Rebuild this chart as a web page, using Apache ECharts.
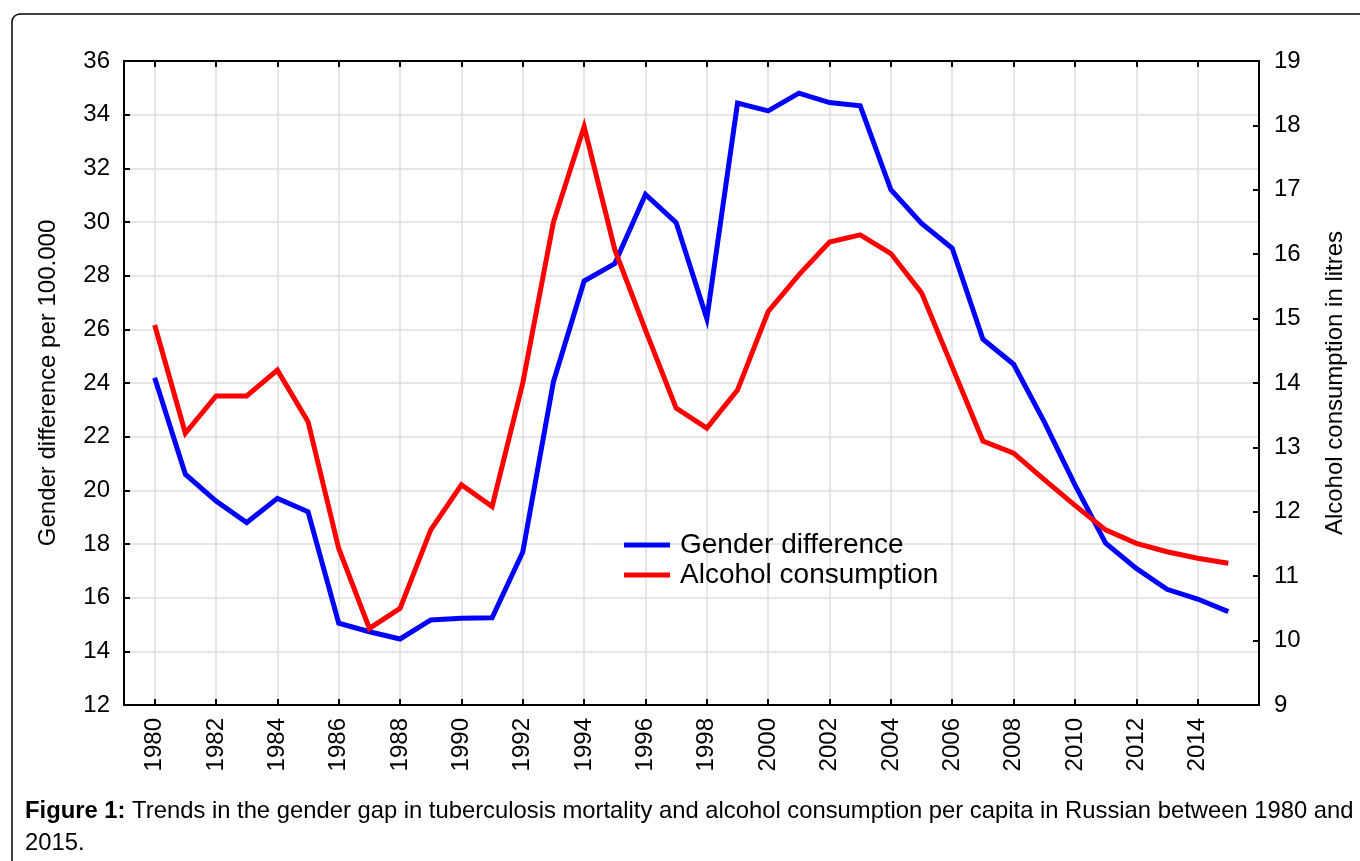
<!DOCTYPE html>
<html>
<head>
    <meta charset="utf-8">
    <title>Gender gap in TB mortality and alcohol consumption</title>
    <script src="https://cdn.jsdelivr.net/npm/echarts@6.0.0/dist/echarts.min.js"></script>
    <style>
        html, body { margin: 0; padding: 0; background: #fff; }
        #chart { width: 1360px; height: 861px; }
    </style>
</head>
<body>
    <div id="chart"></div>
    <script type="text/javascript">
        // years shown on the chart
        var years = [1980, 1981, 1982, 1983, 1984, 1985, 1986, 1987, 1988, 1989,
                     1990, 1991, 1992, 1993, 1994, 1995, 1996, 1997, 1998, 1999,
                     2000, 2001, 2002, 2003, 2004, 2005, 2006, 2007, 2008, 2009,
                     2010, 2011, 2012, 2013, 2014, 2015];

        // gender difference per 100.000 (left axis)
        var genderDiff = [24.2, 20.6, 19.6, 18.8, 19.7, 19.2, 15.05, 14.73, 14.46, 15.17,
                          15.23, 15.25, 17.7, 24.05, 27.8, 28.45, 31.03, 29.98, 26.4, 34.43,
                          34.14, 34.8, 34.45, 34.33, 31.2, 29.95, 29.02, 25.63, 24.7, 22.55,
                          20.2, 18.03, 17.09, 16.31, 15.95, 15.48];

        // alcohol consumption in litres (right axis)
        var alcohol = [14.9, 13.22, 13.8, 13.8, 14.2, 13.4, 11.43, 10.19, 10.5, 11.72,
                       12.42, 12.08, 14.0, 16.5, 17.98, 16.07, 14.82, 13.61, 13.3, 13.89,
                       15.11, 15.68, 16.19, 16.3, 16.01, 15.4, 14.25, 13.1, 12.91, 12.5,
                       12.1, 11.72, 11.51, 11.38, 11.28, 11.2];

        var seriesNames = ['Gender difference', 'Alcohol consumption'];

        // one empty year either side, like the original axis
        var cats = [String(years[0] - 1)];
        years.forEach(function (y) { cats.push(String(y)); });
        cats.push(String(years[years.length - 1] + 1));

        var pad = function (arr) { return ['-'].concat(arr, ['-']); };

        var showYear = function (index, value) {
            var y = +value;
            return y % 2 === 0 && y >= 1980 && y <= 2014;
        };

        var FONT = 'Liberation Sans, Arial, sans-serif';

        var myChart = echarts.init(document.getElementById('chart'));

        var option = {
            backgroundColor: '#fff',
            animation: false,
            textStyle: { fontFamily: FONT },
            title: {
                left: 20,
                top: 790,
                text: '{b|Figure 1:} Trends in the gender gap in tuberculosis mortality and alcohol consumption per capita in Russian between 1980 and\n2015.',
                textStyle: {
                    fontFamily: FONT,
                    fontSize: 23.8,
                    fontWeight: 'normal',
                    color: '#000',
                    lineHeight: 32,
                    rich: {
                        b: { fontFamily: FONT, fontSize: 23.8, fontWeight: 'bold', color: '#000', lineHeight: 32 }
                    }
                }
            },
            graphic: [
                {
                    type: 'rect',
                    z: -10,
                    shape: { x: 12, y: 14, width: 1400, height: 900, r: 8 },
                    style: { fill: 'none', stroke: '#000', lineWidth: 1.5 }
                }
            ],
            legend: {
                orient: 'vertical',
                left: 619,
                top: 525,
                itemWidth: 46,
                itemHeight: 5,
                itemGap: 0,
                icon: 'rect',
                data: seriesNames,
                textStyle: {
                    fontFamily: FONT,
                    fontSize: 28,
                    color: '#000',
                    lineHeight: 30,
                    padding: [0, 0, 0, 5]
                }
            },
            grid: {
                left: 124,
                right: 101,
                top: 61,
                bottom: 156
            },
            xAxis: [
                {
                    type: 'category',
                    data: cats,
                    boundaryGap: false,
                    axisLine: { lineStyle: { color: '#000', width: 2 } },
                    axisTick: { inside: true, length: 6, interval: showYear, lineStyle: { color: '#000', width: 2 } },
                    axisLabel: {
                        interval: showYear,
                        rotate: 90,
                        margin: 13,
                        fontSize: 24,
                        color: '#000',
                        fontFamily: FONT
                    },
                    splitLine: { show: true, interval: showYear, lineStyle: { color: '#dedede', width: 1.5 } }
                },
                {
                    type: 'category',
                    data: cats,
                    position: 'top',
                    boundaryGap: false,
                    axisLine: { lineStyle: { color: '#000', width: 2 } },
                    axisTick: { inside: true, length: 6, interval: showYear, lineStyle: { color: '#000', width: 2 } },
                    axisLabel: { show: false },
                    splitLine: { show: false }
                }
            ],
            yAxis: [
                {
                    type: 'value',
                    min: 12,
                    max: 36,
                    interval: 2,
                    name: 'Gender difference per 100.000',
                    nameLocation: 'middle',
                    nameRotate: 90,
                    nameGap: 64,
                    nameTextStyle: { fontSize: 24, color: '#000', fontFamily: FONT },
                    axisLine: { show: true, lineStyle: { color: '#000', width: 2 } },
                    axisTick: { show: true, inside: true, length: 6, lineStyle: { color: '#000', width: 2 } },
                    axisLabel: { margin: 14, fontSize: 24, color: '#000', fontFamily: FONT },
                    splitLine: { show: true, lineStyle: { color: '#dedede', width: 1.5 } }
                },
                {
                    type: 'value',
                    min: 9,
                    max: 19,
                    interval: 1,
                    position: 'right',
                    name: 'Alcohol consumption in litres',
                    nameLocation: 'middle',
                    nameRotate: 90,
                    nameGap: 64,
                    nameTextStyle: { fontSize: 24, color: '#000', fontFamily: FONT },
                    axisLine: { show: true, lineStyle: { color: '#000', width: 2 } },
                    axisTick: { show: true, inside: true, length: 6, lineStyle: { color: '#000', width: 2 } },
                    axisLabel: { margin: 15, fontSize: 24, color: '#000', fontFamily: FONT },
                    splitLine: { show: false }
                }
            ],
            series: [
                {
                    name: seriesNames[0],
                    type: 'line',
                    yAxisIndex: 0,
                    data: pad(genderDiff),
                    showSymbol: false,
                    symbol: 'none',
                    color: '#0000ff',
                    lineStyle: { color: '#0000ff', width: 5, join: 'miter' }
                },
                {
                    name: seriesNames[1],
                    type: 'line',
                    yAxisIndex: 1,
                    data: pad(alcohol),
                    showSymbol: false,
                    symbol: 'none',
                    color: '#ff0000',
                    lineStyle: { color: '#ff0000', width: 5, join: 'miter' }
                }
            ]
        };

        myChart.setOption(option);
    </script>
</body>
</html>
